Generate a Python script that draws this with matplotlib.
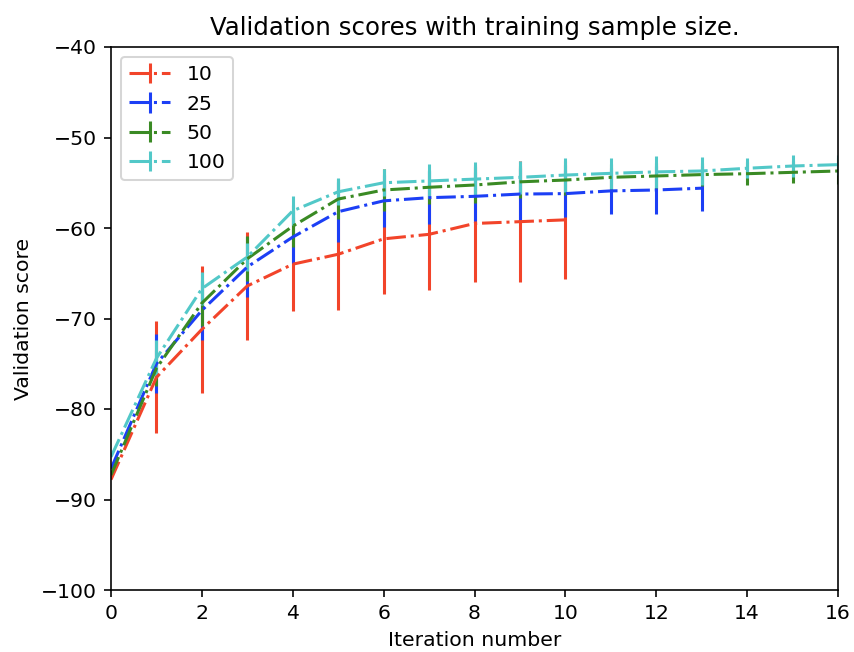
import numpy as np
import matplotlib
matplotlib.use("Agg")
import matplotlib.pyplot as plt

labels = ["10", "25", "50", "100"]
colors = ["#f2442a", "#1c3ff5", "#3a8a24", "#52c8c8"]

red_mean = [-87.8, -76.5, -71.2, -66.4, -64.0, -62.9, -61.2, -60.7, -59.5, -59.3, -59.1]
red_err = [0.0, 6.2, 7.0, 6.0, 5.2, 6.2, 6.1, 6.1, 6.5, 6.7, 6.5]

blue_mean = [-86.6, -75.0, -69.1, -64.3, -61.0, -58.2, -57.0, -56.65, -56.5, -56.25,
             -56.2, -55.9, -55.8, -55.6]
blue_err = [0.0, 3.25, 3.25, 3.3, 2.9, 3.3, 2.9, 2.9, 2.7, 2.85, 2.6, 2.55, 2.65, 2.5]

green_mean = [-87.3, -75.5, -68.3, -63.4, -59.8, -56.8, -55.8, -55.5, -55.25, -54.9,
              -54.7, -54.4, -54.25, -54.1, -54.0, -53.85, -53.7]
green_err = [0.0, 2.0, 2.5, 2.5, 2.3, 2.2, 2.3, 1.9, 2.0, 1.8, 1.7, 1.5, 1.4, 1.3,
             1.3, 1.2, 1.4]

cyan_mean = [-85.3, -74.4, -66.7, -63.2, -58.1, -56.0, -55.0, -54.8, -54.6, -54.4,
             -54.15, -53.96, -53.8, -53.7, -53.4, -53.15, -53.0]
cyan_err = [0.0, 2.0, 1.8, 1.5, 1.6, 1.5, 1.5, 1.9, 1.9, 1.8, 1.85, 1.7, 1.75, 1.6,
            1.1, 1.25, 1.1]

series = [(red_mean, red_err), (blue_mean, blue_err),
          (green_mean, green_err), (cyan_mean, cyan_err)]

dpi = 146.6
fig = plt.figure(figsize=(854 / dpi, 652 / dpi), dpi=dpi)
ax = fig.add_axes([111 / 854, 62 / 652, (838 - 111) / 854, (590 - 47) / 652])

for (m, e), lab, col in zip(series, labels, colors):
    x = np.arange(len(m))
    ax.errorbar(x, m, yerr=e, fmt='-.', color=col, label=lab, lw=1.5, elinewidth=1.5)

ax.set_xlim(0, 16)
ax.set_ylim(-100, -40)
ax.set_xticks(np.arange(0, 17, 2))
ax.set_yticks(np.arange(-100, -39, 10))
ax.set_xlabel("Iteration number")
ax.set_ylabel("Validation score")
ax.set_title("Validation scores with training sample size.")
ax.legend(loc="upper left")

fig.savefig("out.png", dpi=dpi)
